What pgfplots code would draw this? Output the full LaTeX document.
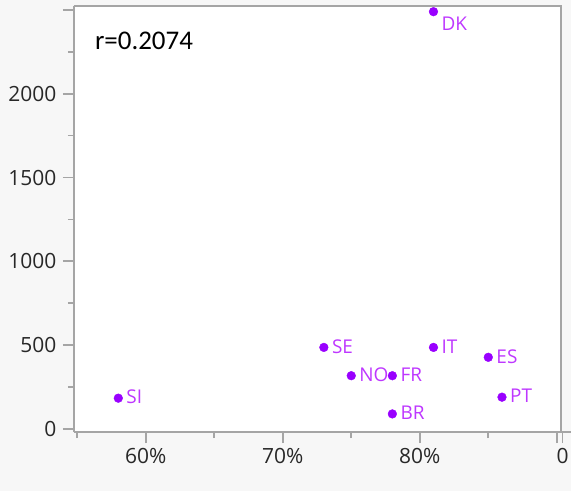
\documentclass[border=0pt]{standalone}
\usepackage{pgfplots}
\pgfplotsset{compat=1.18}
\usepackage{pgfplotstable}
\usepackage{fontspec}
\setmainfont{Open Sans}
\newfontfamily\calfont{Carlito}
\definecolor{bgc}{RGB}{247,247,247}
\definecolor{axc}{RGB}{165,165,165}
\definecolor{ptc}{RGB}{153,0,255}
\definecolor{lbc}{RGB}{190,55,255}
\definecolor{tkc}{RGB}{40,40,40}

\pgfplotstableread{
x y label
73 486 SE
75 317 NO
78 89 BR
81 486 IT
85 427 ES
86 189 PT
58 183 SI
}\maindata
\pgfplotstableread{
x y label
78 317 FR
}\frdata
\pgfplotstableread{
x y label
81 2490 DK
}\dkdata

\begin{document}
\begin{tikzpicture}
\fill[bgc] (0,0) rectangle (572bp,492bp);
\fill[white] (74bp,59bp) rectangle (562bp,486bp);
\draw[axc, line width=1.6bp] (74bp,486bp) -- (562.3bp,486bp) -- (562.3bp,59bp);
\node[anchor=base west, inner sep=0] at (95bp,442bp) {\calfont\fontsize{27bp}{30bp}\selectfont r=0.2074};
\begin{axis}[
  at={(74bp,59bp)}, anchor=south west,
  width=498bp, height=427bp, scale only axis,
  xmin=54.756, xmax=91.03, ymin=-20, ymax=2524,
  axis x line*=bottom, axis y line*=left,
  axis line style={axc, line width=1.6bp, -},
  xtick={60,70,80,90}, xticklabels={60\%,70\%,80\%,},
  extra x ticks={90.43}, extra x tick labels={0},
  minor xtick={55,65,75,85},
  ytick={0,500,1000,1500,2000,2500}, yticklabels={0,500,1000,1500,2000,},
  minor ytick={250,750,1250,1750,2250},
  tick align=outside, tick style={axc, line width=1.6bp},
  major tick length=11bp, minor tick length=6bp,
  tick label style={font=\fontsize{21bp}{24bp}\selectfont, text=tkc},
  xticklabel style={yshift=-2bp},
  yticklabel style={xshift=-3bp},
  /pgf/number format/assume math mode=true,
  clip=false,
  every node near coord/.style={anchor=west, inner sep=0pt, xshift=8bp, yshift=1bp, text=lbc, font=\fontsize{19bp}{21bp}\selectfont},
]
\addplot[only marks, mark=*, mark size=4.4pt, color=ptc, nodes near coords, point meta=explicit symbolic] table[meta=label] {\maindata};
\addplot[only marks, mark=*, mark size=4.4pt, color=ptc, nodes near coords, point meta=explicit symbolic] table[meta=label] {\frdata};
\addplot[only marks, mark=*, mark size=4.4pt, color=ptc, nodes near coords, point meta=explicit symbolic, every node near coord/.append style={yshift=-13bp}] table[meta=label] {\dkdata};
\end{axis}
\end{tikzpicture}
\end{document}
